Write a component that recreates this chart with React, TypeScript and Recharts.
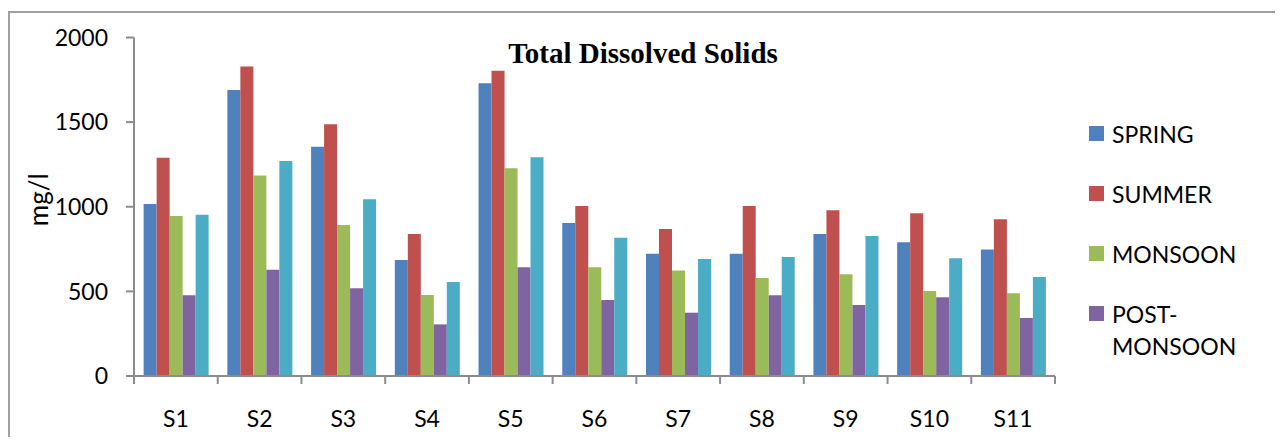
import React from 'react';
import { BarChart, Bar, XAxis, YAxis, Legend, Label } from 'recharts';

const CATEGORIES = ['S1', 'S2', 'S3', 'S4', 'S5', 'S6', 'S7', 'S8', 'S9', 'S10', 'S11'];
const SPRING = [1016, 1690, 1355, 685, 1729, 904, 723, 723, 839, 790, 748];
const SUMMER = [1290, 1828, 1487, 839, 1804, 1004, 869, 1004, 979, 961, 926];
const MONSOON = [945, 1184, 892, 479, 1227, 642, 624, 579, 601, 502, 489];
const POST_MONSOON = [477, 628, 518, 305, 642, 449, 374, 477, 419, 465, 343];
// fifth (cyan) series has no legend entry in the original
const WINTER = [953, 1270, 1044, 555, 1292, 817, 691, 703, 827, 695, 585];
const Y_TICKS = [0, 500, 1000, 1500, 2000];
const LEGEND_ORDER = ['SPRING', 'SUMMER', 'MONSOON', 'POST-MONSOON'];

const DATA = CATEGORIES.map((site, i) => ({
  site,
  spring: SPRING[i],
  summer: SUMMER[i],
  monsoon: MONSOON[i],
  postMonsoon: POST_MONSOON[i],
  winter: WINTER[i],
}));

const FONT = 'Lato, "Open Sans", sans-serif';
const AXIS = '#8c8c8c';

function XTick(props: any) {
  const { x, y, payload, index, visibleTicksCount } = props;
  const half = payload.offset || 41.86;
  const axisY = y - 35;
  return (
    <g>
      <line x1={x - half} x2={x - half} y1={axisY} y2={axisY + 8} stroke={AXIS} strokeWidth={2} />
      {index === visibleTicksCount - 1 && (
        <line x1={x + half} x2={x + half} y1={axisY} y2={axisY + 8} stroke={AXIS} strokeWidth={2} />
      )}
      <text x={x} y={y} dy="0.71em" textAnchor="middle" fill="#000" fontSize={23} fontFamily={FONT}>
        {payload.value}
      </text>
    </g>
  );
}

function LegendBox(props: any) {
  const items = LEGEND_ORDER.map((name) => (props.payload || []).find((p: any) => p.value === name)).filter(Boolean);
  return (
    <div style={{ fontFamily: FONT, fontSize: 23, color: '#000' }}>
      {items.map((item: any) => (
        <div key={item.value} style={{ display: 'flex', alignItems: 'flex-start', marginBottom: 28 }}>
          <span
            style={{
              display: 'inline-block',
              width: 15,
              height: 15,
              marginTop: 8.5,
              marginRight: 8,
              background: item.color,
              flexShrink: 0,
            }}
          />
          <span style={{ lineHeight: '32px', width: 135 }}>{item.value}</span>
        </div>
      ))}
    </div>
  );
}

export default function App() {
  return (
    <div
      style={{
        position: 'relative',
        marginTop: 3,
        width: 1275,
        height: 426,
        borderTop: '2px solid #a0a0a0',
        borderLeft: '2px solid #a0a0a0',
        boxSizing: 'border-box',
        overflow: 'hidden',
      }}
    >
      <div
        style={{
          position: 'absolute',
          left: 433,
          top: 25.7,
          width: 400,
          textAlign: 'center',
          fontFamily: '"Liberation Serif", "Times New Roman", serif',
          fontWeight: 'bold',
          fontSize: 29,
          lineHeight: '29px',
          color: '#000',
          zIndex: 2,
        }}
      >
        Total Dissolved Solids
      </div>
      <BarChart
        width={1273}
        height={424}
        data={DATA}
        margin={{ top: 24.5, right: 228, bottom: 0, left: 0 }}
        barCategoryGap="11.5%"
        barGap={0}
      >
        <XAxis
          dataKey="site"
          height={61}
          axisLine={{ stroke: AXIS, strokeWidth: 2 }}
          tickLine={false}
          tickSize={8}
          tickMargin={27}
          tick={<XTick />}
          interval={0}
        />
        <YAxis
          width={124}
          domain={[0, 2000]}
          ticks={Y_TICKS}
          axisLine={{ stroke: AXIS, strokeWidth: 2 }}
          tickLine={{ stroke: AXIS, strokeWidth: 2 }}
          tickSize={8}
          tickMargin={18}
          tick={{ fill: '#000', fontSize: 23, fontFamily: FONT }}
        >
          <Label
            content={(p: any) => {
              const vb = p.viewBox || { x: 0, y: 0, height: 0 };
              const cx = 28;
              const cy = vb.y + vb.height / 2 - 7;
              return (
                <text
                  x={cx}
                  y={cy}
                  transform={`rotate(-90 ${cx} ${cy})`}
                  textAnchor="middle"
                  dominantBaseline="central"
                  fill="#000"
                  fontSize={26}
                  fontFamily={FONT}
                >
                  mg/l
                </text>
              );
            }}
          />
        </YAxis>
        <Legend
          layout="vertical"
          align="center"
          verticalAlign="middle"
          itemSorter={null as any}
          wrapperStyle={{ position: 'absolute', left: 1079, top: 104.5, width: 180 }}
          content={<LegendBox />}
        />
        <Bar dataKey="spring" name="SPRING" fill="#4f81bd" isAnimationActive={false} />
        <Bar dataKey="summer" name="SUMMER" fill="#c0504d" isAnimationActive={false} />
        <Bar dataKey="monsoon" name="MONSOON" fill="#9bbb59" isAnimationActive={false} />
        <Bar dataKey="postMonsoon" name="POST-MONSOON" fill="#8064a2" isAnimationActive={false} />
        <Bar dataKey="winter" name="WINTER" fill="#4bacc6" legendType="none" isAnimationActive={false} />
      </BarChart>
    </div>
  );
}
